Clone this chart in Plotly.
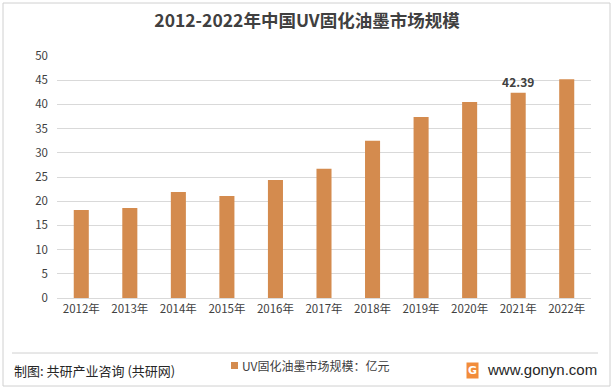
import plotly.graph_objects as go

years = ["2012年", "2013年", "2014年", "2015年", "2016年", "2017年",
         "2018年", "2019年", "2020年", "2021年", "2022年"]
values = [18.2, 18.6, 21.9, 21.1, 24.4, 26.7, 32.5, 37.4, 40.5, 42.39, 45.2]
labels = ["", "", "", "", "", "", "", "", "", "<b>42.39</b>", ""]
series_name = "UV固化油墨市场规模：亿元"
title_text = "2012-2022年中国UV固化油墨市场规模"
source_text = "制图: 共研产业咨询 (共研网)"
site_text = "www.gonyn.com"
bar_color = "#D48B4E"

L, R, T, B = 57, 591, 56, 298
W, H = 614, 390
def px(x): return (x - L) / (R - L)
def py(y): return (B - y) / (B - T)

font_cn = "Noto Sans CJK SC, Microsoft YaHei, sans-serif"

fig = go.Figure()
fig.add_trace(go.Bar(
    x=years, y=values, name=series_name,
    marker=dict(color=bar_color, line=dict(width=0)),
    text=labels, textposition="outside", constraintext="none",
    textfont=dict(size=12, color="#404040", family=font_cn),
    cliponaxis=False, showlegend=False, hoverinfo="x+y",
))

fig.update_layout(
    width=W, height=H,
    margin=dict(l=L, r=W - R, t=T, b=H - B, autoexpand=False),
    paper_bgcolor="white", plot_bgcolor="white",
    bargap=0.69,
    title=dict(text="<b>" + title_text + "</b>", x=0.5, xanchor="center",
               y=1 - 21 / H, yanchor="middle",
               font=dict(size=17.5, color="#404040", family=font_cn)),
    font=dict(family=font_cn, color="#595959"),
    xaxis=dict(showgrid=False, showline=True, linecolor="#D9D9D9", linewidth=1,
               ticks="", tickfont=dict(size=11.5, color="#404040", family=font_cn)),
    yaxis=dict(range=[0, 50], dtick=5, showgrid=True, gridcolor="#D9D9D9",
               gridwidth=1, zeroline=False, showline=False, ticks="",
               ticklabelstandoff=8,
               tickfont=dict(size=11.5, color="#404040", family=font_cn)),
    showlegend=False,
    shapes=[
        dict(type="rect", xref="paper", yref="paper",
             x0=px(3), x1=px(610), y0=py(386), y1=py(3),
             line=dict(color="#D0D0D0", width=1), layer="below"),
        dict(type="line", xref="paper", yref="paper",
             x0=px(12), x1=px(598), y0=py(353), y1=py(353),
             line=dict(color="#D0D0D0", width=1)),
        dict(type="rect", xref="paper", yref="paper",
             x0=px(231), x1=px(238), y0=py(369), y1=py(362),
             fillcolor=bar_color, line=dict(width=0)),
    ],
    annotations=[
        dict(text=series_name, xref="paper", yref="paper", x=px(240), y=py(365),
             xanchor="left", yanchor="middle", showarrow=False,
             font=dict(size=12, color="#404040", family=font_cn)),
        dict(text=source_text, xref="paper", yref="paper", x=px(12), y=py(370),
             xanchor="left", yanchor="middle", showarrow=False,
             font=dict(size=13, color="#262626", family=font_cn)),
        dict(text="<b>G</b>", xref="paper", yref="paper", x=px(466), y=py(370),
             xanchor="left", yanchor="middle", showarrow=False,
             bgcolor="#F28C3A", borderpad=1,
             font=dict(size=11, color="white", family="DejaVu Sans")),
        dict(text=site_text, xref="paper", yref="paper", x=px(599), y=py(369),
             xanchor="right", yanchor="middle", showarrow=False,
             font=dict(size=15, color="#262626", family="Liberation Sans, Arial")),
    ],
)

fig.write_html("out.html", config={"displayModeBar": False},
               post_script="document.body.style.margin='0';document.body.style.overflow='hidden';")
